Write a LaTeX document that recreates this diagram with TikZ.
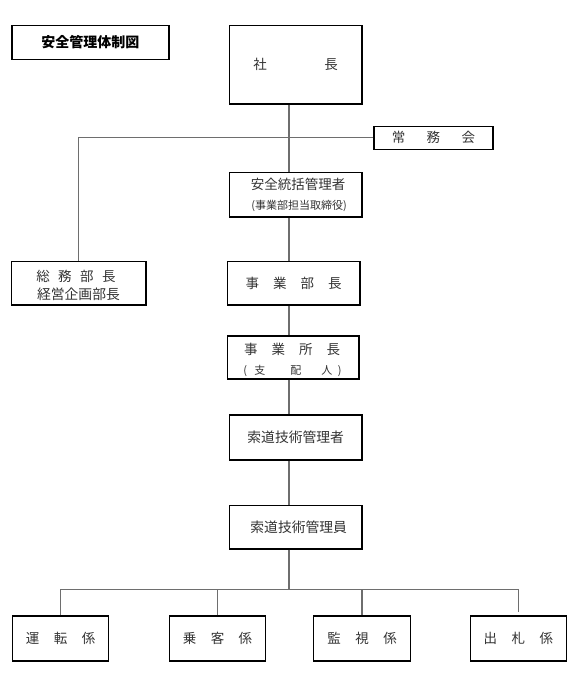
\documentclass[tikz,border=0pt]{standalone}
\usepackage{fontspec}
\setmainfont{Noto Sans CJK JP}
\definecolor{txt}{HTML}{333333}
\definecolor{linegray}{HTML}{6E6E6E}
\begin{document}
\begin{tikzpicture}[x=1pt,y=-1pt,
  box/.style={draw=black,line width=1.1pt,rectangle,inner sep=0pt,text=txt,font=\fontsize{13.5}{16}\selectfont},
  txtn/.style={inner sep=0pt,text=txt,font=\fontsize{13.5}{16}\selectfont},
  conn/.style={draw=linegray,line width=1.3pt}]
\useasboundingbox (0,0) rectangle (580,681);
\fill[white] (0,0) rectangle (580,681);
\coordinate (spine) at (289,0);
\coordinate (bus) at (0,589.5);
% boxes
\node[box,minimum width=157pt,minimum height=34pt,text=black,font=\fontsize{14}{16}\selectfont\bfseries] (title) at (90.5,42.5) {安全管理体制図};
\node[box,minimum width=132.6pt,minimum height=78.5pt] (shacho) at (295.7,64.7) {社\hspace{57.5pt}長};
\node[box,minimum width=119pt,minimum height=22.5pt] (jomu) at (433.5,137.8) {常\hspace{21.5pt}務\hspace{21.5pt}会};
\node[box,minimum width=132.6pt,minimum height=44.5pt] (tokatsu) at (295.7,194.7) {};
\node[txtn] (tokatsuA) at (298,184) {安全統括管理者};
\node[txtn,font=\fontsize{11}{13}\selectfont] (tokatsuB) at (299,206) {(事業部担当取締役)};
\node[box,minimum width=134.5pt,minimum height=43.3pt] (somu) at (78.7,283.3) {};
\node[txtn] (somuA) at (76,276.5) {総\hspace{8.5pt}務\hspace{8.5pt}部\hspace{8.5pt}長};
\node[txtn,font=\fontsize{13.8}{16}\selectfont] (somuB) at (78.5,294.5) {経営企画部長};
\node[box,minimum width=132.5pt,minimum height=43.3pt] (jigyobu) at (293.7,283.3) {事\hspace{14pt}業\hspace{14pt}部\hspace{14pt}長};
\node[box,minimum width=131.5pt,minimum height=43pt] (jigyosho) at (293.2,357.5) {};
\node[txtn] (jigyoshoA) at (292,349) {事\hspace{14pt}業\hspace{14pt}所\hspace{14pt}長};
\node[txtn,font=\fontsize{11}{13}\selectfont] (jigyoshoB) at (292.5,371) {(\hspace{7.5pt}支\hspace{25pt}配\hspace{20pt}人\hspace{5.5pt})};
\node[box,minimum width=132.6pt,minimum height=45pt,font=\fontsize{13.8}{16}\selectfont] (kanrisha) at (295.7,437.5) {索道技術管理者};
\node[box,minimum width=132.6pt,minimum height=43.3pt,font=\fontsize{13.8}{16}\selectfont] (kanriin) at (295.7,527.3) {\hspace{6pt}索道技術管理員};
\node[box,minimum width=96.5pt,minimum height=45pt] (unten) at (60.6,638.5) {運\hspace{14.5pt}転\hspace{14.5pt}係};
\node[box,minimum width=96.5pt,minimum height=45pt] (jokyaku) at (217.5,638.5) {乗\hspace{14.5pt}客\hspace{14.5pt}係};
\node[box,minimum width=96.5pt,minimum height=45pt] (kanshi) at (362,638.5) {監\hspace{14.5pt}視\hspace{14.5pt}係};
\node[box,minimum width=96.5pt,minimum height=45pt] (shusatsu) at (518.3,638.5) {出\hspace{14.5pt}札\hspace{14.5pt}係};
% connectors
\draw[conn] (spine |- shacho.south) -- (spine |- tokatsu.north);
\draw[conn] (jomu.west) -- (somu.north |- jomu.west) -- (somu.north);
\draw[conn] (spine |- tokatsu.south) -- (spine |- jigyobu.north);
\draw[conn] (spine |- jigyobu.south) -- (spine |- jigyosho.north);
\draw[conn] (spine |- jigyosho.south) -- (spine |- kanrisha.north);
\draw[conn] (spine |- kanrisha.south) -- (spine |- kanriin.north);
\draw[conn] (spine |- kanriin.south) -- (spine |- bus);
\draw[conn] (unten.north) -- (unten.north |- bus) -- (shusatsu.north |- bus) -- ([yshift=3pt]shusatsu.north);
\draw[conn] (jokyaku.north) -- (jokyaku.north |- bus);
\draw[conn] (kanshi.north) -- (kanshi.north |- bus);
\end{tikzpicture}
\end{document}
